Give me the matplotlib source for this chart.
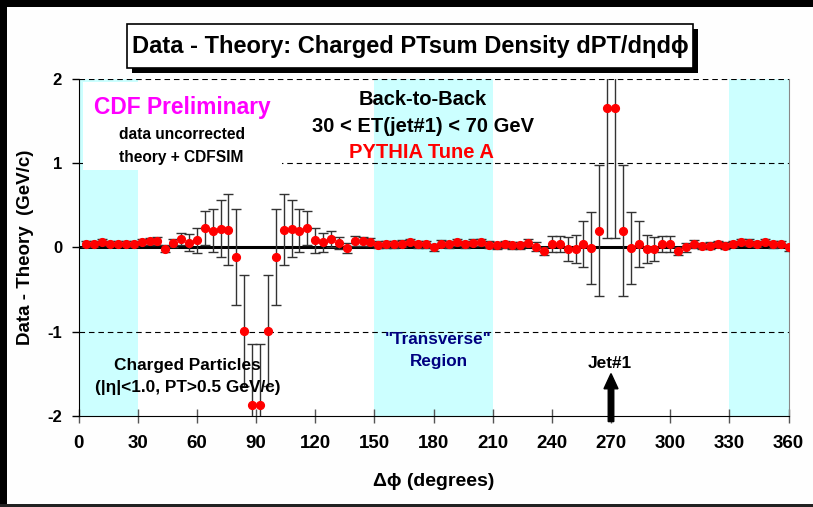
import matplotlib
matplotlib.use("Agg")
import matplotlib.pyplot as plt
from matplotlib.patches import Rectangle, FancyArrow

# Delta-phi bin centres (degrees) relative to the leading jet, 4 degree bins
phi = list(range(4, 361, 4))

# Data - Theory for the charged PTsum density (GeV/c)
diff = [
    0.04, 0.04, 0.065, 0.045, 0.045, 0.045, 0.035, 0.065, 0.07, 0.075,
    -0.015, 0.05, 0.10, 0.055, 0.085, 0.23, 0.20, 0.22, 0.21, -0.12,
    -0.99, -1.87, -1.87, -0.99, -0.12, 0.21, 0.22, 0.20, 0.23, 0.085,
    0.06, 0.10, 0.05, -0.01, 0.075, 0.07, 0.065, 0.03, 0.035, 0.035,
    0.043, 0.065, 0.035, 0.035, 0.0, 0.043, 0.035, 0.06, 0.035, 0.055,
    0.06, 0.03, 0.025, 0.035, 0.025, 0.025, 0.05, 0.01, -0.04, 0.04,
    0.04, -0.02, -0.02, 0.04, -0.01, 0.20, 1.66, 1.66, 0.20, -0.01,
    0.04, -0.02, -0.02, 0.04, 0.04, -0.04, 0.0, 0.04, 0.015, 0.02,
    0.04, 0.02, 0.04, 0.063, 0.055, 0.04, 0.063, 0.035, 0.04, 0.0,
]

# Uncertainty on each bin (GeV/c)
err = [
    0.03, 0.03, 0.035, 0.03, 0.03, 0.03, 0.035, 0.04, 0.04, 0.045,
    0.04, 0.05, 0.07, 0.10, 0.15, 0.20, 0.25, 0.34, 0.42, 0.57,
    0.66, 0.72, 0.72, 0.66, 0.57, 0.42, 0.34, 0.25, 0.20, 0.15,
    0.11, 0.09, 0.07, 0.06, 0.06, 0.05, 0.05, 0.04, 0.04, 0.04,
    0.04, 0.04, 0.04, 0.04, 0.04, 0.04, 0.04, 0.04, 0.04, 0.04,
    0.04, 0.04, 0.04, 0.04, 0.04, 0.04, 0.05, 0.05, 0.05, 0.09,
    0.10, 0.14, 0.17, 0.27, 0.43, 0.78, 1.55, 1.55, 0.78, 0.43,
    0.27, 0.17, 0.14, 0.10, 0.09, 0.05, 0.05, 0.05, 0.04, 0.04,
    0.04, 0.04, 0.04, 0.04, 0.04, 0.04, 0.04, 0.04, 0.04, 0.04,
]

x_ticks = list(range(0, 361, 30))
y_ticks = [-2, -1, 0, 1, 2]
shaded = [(0, 30), (150, 210), (330, 360)]

plt.style.use("default")
plt.rcParams.update({
    "font.family": ["Liberation Sans", "DejaVu Sans"],
    "font.weight": "bold",
    "axes.unicode_minus": False,
})

W, H = 813, 507
PAGE = "#FEFEFE"
fig = plt.figure(figsize=(W / 100, H / 100), dpi=100, facecolor=PAGE)


def fx(px):
    return px / W


def fy(py):
    return 1 - py / H


# page background
fig.add_artist(Rectangle((0, 0), 1, 1, transform=fig.transFigure,
                         fc=PAGE, ec="none", zorder=-1))

# slide frame
fig.add_artist(Rectangle((0, 0), 6.5 / W, 1, transform=fig.transFigure,
                         fc="black", ec="none", zorder=10))
fig.add_artist(Rectangle((0, fy(7)), 1, 7 / H, transform=fig.transFigure,
                         fc="black", ec="none", zorder=10))
fig.add_artist(Rectangle((0, 0), 1, 3 / H, transform=fig.transFigure,
                         fc="#222222", ec="none", zorder=10))

ax = fig.add_axes([fx(78.5), fy(415.7), 710 / W, (415.7 - 79) / H])
ax.set_xlim(0, 360)
ax.set_ylim(-2, 2)

for a, b in shaded:
    ax.axvspan(a, b, color="#CCFFFF", lw=0, zorder=0)

for yv in (2, 1, -1):
    ax.axhline(yv, color="black", lw=0.8, ls=(0, (5, 3.5)), zorder=1)
ax.axhline(0, color="black", lw=2.2, zorder=2)

# white panel behind the preliminary label
ax.add_patch(Rectangle((2.1, 0.918), 101.1, 1.049, fc="white", ec="none", zorder=1.5))

ax.errorbar(phi, diff, yerr=err, fmt="o", color="red", ms=5.6, mec="red",
            ecolor="#333333", elinewidth=1, capsize=3.5, capthick=1, zorder=3)

ax.spines["top"].set_visible(False)
ax.spines["right"].set_color("#888888")

ax.set_xticks(x_ticks)
ax.set_xticklabels([str(v) for v in x_ticks])
ax.set_yticks(y_ticks)
ax.set_yticklabels([str(v) for v in y_ticks])
ax.tick_params(axis="x", direction="inout", length=9.5, width=1, color="#555555",
               labelsize=13.5, pad=9)
ax.tick_params(axis="y", direction="out", length=4.8, width=1, color="black",
               labelsize=12, pad=7)

# annotations
txt = dict(ha="center", va="center", zorder=5)
ax.text(52.7, 1.66, "CDF Preliminary", color="#FF00FF", fontsize=16.4, **txt)
ax.text(52.5, 1.34, "data uncorrected", fontsize=11.2, **txt)
ax.text(52.3, 1.07, "theory + CDFSIM", fontsize=11.2, **txt)
ax.text(174.7, 1.76, "Back-to-Back", fontsize=14.5, **txt)
ax.text(174.7, 1.44, "30 < ET(jet#1) < 70 GeV", fontsize=14.5, **txt)
ax.text(173.7, 1.13, "PYTHIA Tune A", color="#FF0000", fontsize=14.5, **txt)
ax.text(55.0, -1.40, "Charged Particles", fontsize=12.4, **txt)
ax.text(55.6, -1.67, "(|\u03b7|<1.0, PT>0.5 GeV/c)", fontsize=12.4, **txt)
ax.text(182.4, -1.10, "\"Transverse\"", color="#000080", fontsize=12.3, **txt)
ax.text(182.8, -1.36, "Region", color="#000080", fontsize=12.3, **txt)
ax.text(269.5, -1.375, "Jet#1", fontsize=12.4, **txt)
ax.add_patch(FancyArrow(270, -2.07, 0, 0.57, width=2.8, head_width=7.1,
                        head_length=0.18, length_includes_head=True,
                        color="black", clip_on=False, zorder=6))

# axis titles
fig.text(fx(26), fy(247), "Data - Theory  (GeV/c)", rotation=90, fontsize=13.5,
         ha="center", va="center")
fig.text(fx(433.5), fy(481), "\u0394\u03d5 (degrees)", fontsize=14,
         ha="center", va="center")

# title box with drop shadow
bx0, bx1, by0, by1 = 127, 693, 24, 68
fig.add_artist(Rectangle((fx(bx0 + 5), fy(by1 + 5)), (bx1 - bx0) / W, (by1 - by0) / H,
                         transform=fig.transFigure, fc="black", ec="none", zorder=8))
fig.add_artist(Rectangle((fx(bx0), fy(by1)), (bx1 - bx0) / W, (by1 - by0) / H,
                         transform=fig.transFigure, fc="white", ec="black", lw=1.2,
                         zorder=9))
fig.text(fx((bx0 + bx1) / 2), fy(46.5),
         "Data - Theory: Charged PTsum Density dPT/d\u03b7d\u03d5",
         fontsize=17, ha="center", va="center", zorder=11,
         family=["Liberation Sans Narrow", "Liberation Sans", "DejaVu Sans"])

fig.savefig("out.png", dpi=100, facecolor=PAGE)
